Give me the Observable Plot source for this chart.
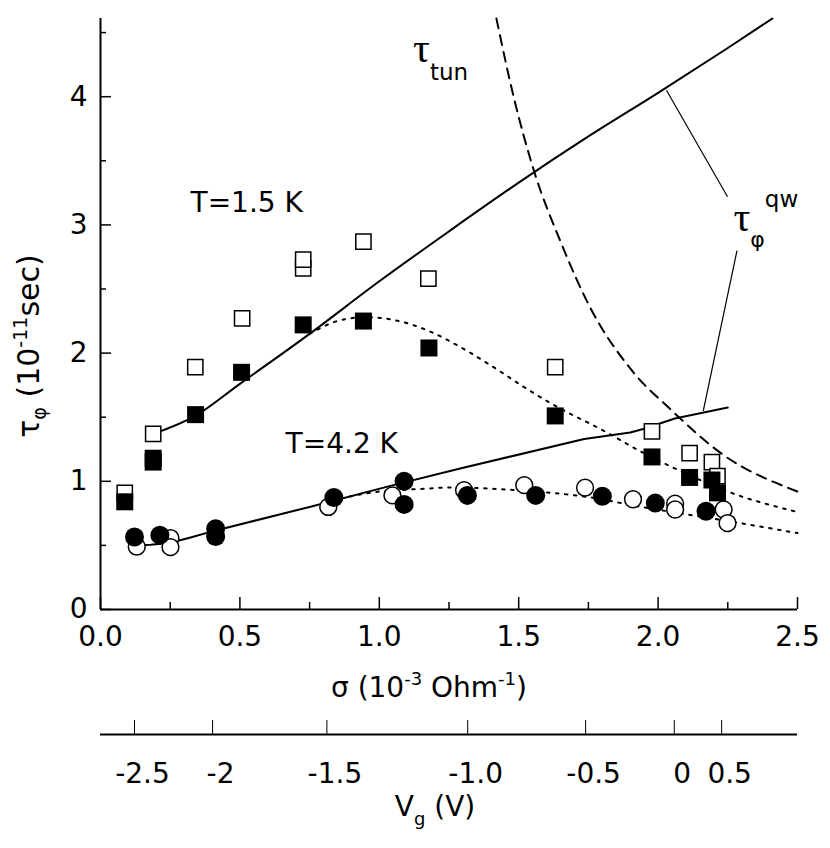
<!DOCTYPE html>
<html><head><meta charset="utf-8">
<script src="https://cdn.jsdelivr.net/npm/d3@7"></script>
<script src="https://cdn.jsdelivr.net/npm/@observablehq/plot@0.6"></script>
<style>
body{margin:0;background:#fff;}
#chart svg{display:block;}
</style></head><body><div id="chart"></div>
<script>
// ---- data (sigma in 10^-3 Ohm^-1, tau in 10^-11 s) ----
const openSquares15 = [[0.087,0.91],[0.189,1.37],[0.34,1.89],[0.508,2.27],[0.727,2.66],[0.727,2.73],[0.943,2.87],[1.176,2.58],[1.631,1.89],[1.978,1.39],[2.113,1.22],[2.193,1.15],[2.213,1.04]];
const filledSquares15 = [[0.087,0.84],[0.189,1.18],[0.189,1.15],[0.341,1.52],[0.506,1.85],[0.727,2.22],[0.943,2.25],[1.178,2.04],[1.631,1.51],[1.978,1.19],[2.113,1.03],[2.193,1.01],[2.213,0.91]];
const openCircles42 = [[0.13,0.49],[0.251,0.557],[0.251,0.487],[0.817,0.80],[1.047,0.89],[1.304,0.93],[1.52,0.97],[1.738,0.95],[1.91,0.86],[2.061,0.826],[2.061,0.78],[2.235,0.78],[2.249,0.674]];
const filledCircles42 = [[0.122,0.565],[0.213,0.58],[0.413,0.63],[0.413,0.57],[0.837,0.873],[1.089,1.00],[1.089,0.82],[1.316,0.89],[1.561,0.89],[1.80,0.883],[1.99,0.83],[2.172,0.766]];
const tauQw15 = [[0.19,1.37],[0.34,1.51],[0.5,1.76],[0.75,2.15],[1.0,2.56],[1.25,2.95],[1.5,3.33],[1.75,3.69],[2.0,4.03],[2.25,4.38],[2.41,4.61]];
const tauFit15 = [[0.75,2.15],[0.85,2.25],[0.95,2.28],[1.08,2.245],[1.18,2.17],[1.32,2.01],[1.41,1.89],[1.53,1.72],[1.63,1.59],[1.8,1.40],[1.94,1.23],[2.1,1.06],[2.25,0.92],[2.5,0.76]];
const tauTun = [[1.42,4.61],[1.484,3.98],[1.555,3.42],[1.65,2.87],[1.76,2.34],[1.9,1.88],[2.05,1.55],[2.225,1.22],[2.5,0.92]];
const tauQw42 = [[0.12,0.50],[0.18,0.505],[0.25,0.52],[0.32,0.56],[0.41,0.615],[0.75,0.80],[1.05,0.97],[1.29,1.10],[1.735,1.33],[1.9,1.38],[1.95,1.41],[2.06,1.49],[2.25,1.575]];
const tauFit42 = [[0.80,0.83],[0.885,0.877],[1.0,0.92],[1.172,0.943],[1.25,0.952],[1.496,0.93],[1.74,0.88],[1.94,0.80],[2.08,0.75],[2.25,0.69],[2.5,0.596]];
const xMajorTicks = [0, 0.5, 1, 1.5, 2, 2.5];
const xMinorTicks = [0.25, 0.75, 1.25, 1.75, 2.25];
const yMajorTicks = [0, 1, 2, 3, 4];
const yMinorTicks = [0.5, 1.5, 2.5, 3.5, 4.5];
const vgLabels = ["-2.5", "-2", "-1.5", "-1.0", "-0.5", "0", "0.5"];
const vgSigma = [0.122, 0.402, 0.812, 1.317, 1.740, 2.058, 2.228];
const tempLabels = ["T=1.5 K", "T=4.2 K"];
const tempSigma = [0.323, 0.664];
const tempTau = [3.17, 1.29];
const leaders = [{x1: 2.03, y1: 4.05, x2: 2.249, y2: 3.22}, {x1: 2.283, y1: 2.80, x2: 2.162, y2: 1.55}];
const tunLabelPos = [1.123, 4.27];
const qwLabelPos = [2.272, 2.945];

const font = "'DejaVu Sans', 'Liberation Sans', Arial, sans-serif";
const serif = "'Liberation Serif', 'Times New Roman', serif";
const fs = 28;

const main = Plot.plot({
  width: 830, height: 710,
  marginLeft: 100, marginRight: 33, marginTop: 18, marginBottom: 101,
  x: {domain: [0, 2.5], axis: null},
  y: {domain: [0, 4.61], axis: null},
  style: {fontFamily: font, fontSize: fs + "px", background: "white", color: "black", overflow: "visible"},
  marks: [
    Plot.line(tauTun, {curve: "monotone-x", stroke: "black", strokeWidth: 2, strokeDasharray: "10,7"}),
    Plot.line(tauFit15, {curve: "monotone-x", stroke: "black", strokeWidth: 2, strokeDasharray: "2.5,6.5"}),
    Plot.line(tauFit42, {curve: "monotone-x", stroke: "black", strokeWidth: 2, strokeDasharray: "2.5,6.5"}),
    Plot.line(tauQw15, {curve: "monotone-x", stroke: "black", strokeWidth: 2}),
    Plot.line(tauQw42, {curve: "linear", stroke: "black", strokeWidth: 2}),
    Plot.link(leaders, {x1: "x1", y1: "y1", x2: "x2", y2: "y2", stroke: "black", strokeWidth: 1.2}),
    Plot.dot(openCircles42, {r: 8.4, fill: "white", stroke: "black", strokeWidth: 1.5}),
    Plot.dot(openSquares15, {symbol: "square", r: 8.6, fill: "white", stroke: "black", strokeWidth: 1.5}),
    Plot.dot(filledCircles42, {r: 9.5, fill: "black"}),
    Plot.dot(filledSquares15, {symbol: "square", r: 9.6, fill: "black"}),
    Plot.ruleX([0], {stroke: "black", strokeWidth: 2}),
    Plot.ruleY([0], {stroke: "black", strokeWidth: 2}),
    Plot.axisY(yMajorTicks, {anchor: "left", tickSize: -11, tickPadding: 24, strokeWidth: 1.5, fontSize: fs, tickFormat: d => String(d), label: null}),
    Plot.axisY(yMinorTicks, {anchor: "left", tickSize: -6, strokeWidth: 1.5, tickFormat: () => "", label: null}),
    Plot.axisX(xMajorTicks, {anchor: "bottom", tickSize: -12, tickPadding: 29, strokeWidth: 1.5, fontSize: fs, tickFormat: d3.format(".1f"), label: null}),
    Plot.axisX(xMinorTicks, {anchor: "bottom", tickSize: -7, strokeWidth: 1.5, tickFormat: () => "", label: null}),
    Plot.text(tempLabels, {x: (d, i) => tempSigma[i], y: (d, i) => tempTau[i], text: d => d, textAnchor: "start", fontSize: fs, fill: "black"})
  ]
});

const sx = main.scale("x"), sy = main.scale("y");
const ms = d3.select(main);
// y label
ms.append("text").attr("transform", "translate(39,346) rotate(-90)").attr("text-anchor", "middle")
  .attr("font-family", font).attr("font-size", 30).attr("fill", "black")
  .call(t => {
    t.append("tspan").text("τ");
    t.append("tspan").attr("font-size", 19).attr("dy", 7).text("φ");
    t.append("tspan").attr("dy", -7).text(" (10");
    t.append("tspan").attr("font-size", 19).attr("dy", -12).text("-11");
    t.append("tspan").attr("dy", 12).text("sec)");
  });
// x label
ms.append("text").attr("x", 429).attr("y", 697).attr("text-anchor", "middle")
  .attr("font-family", font).attr("font-size", fs).attr("fill", "black")
  .call(t => {
    t.append("tspan").text("σ (10");
    t.append("tspan").attr("font-size", 18).attr("dy", -12).text("-3");
    t.append("tspan").attr("dy", 12).text(" Ohm");
    t.append("tspan").attr("font-size", 18).attr("dy", -12).text("-1");
    t.append("tspan").attr("dy", 12).text(")");
  });
// tau_tun
ms.append("text").attr("x", sx.apply(tunLabelPos[0])).attr("y", sy.apply(tunLabelPos[1]))
  .attr("text-anchor", "start").attr("fill", "black")
  .call(t => {
    t.append("tspan").attr("font-family", serif).attr("font-size", 42).text("τ");
    t.append("tspan").attr("font-family", font).attr("font-size", 23).attr("dy", 18).text("tun");
  });
// tau_phi^qw
ms.append("text").attr("x", sx.apply(qwLabelPos[0])).attr("y", sy.apply(qwLabelPos[1]))
  .attr("text-anchor", "start").attr("fill", "black")
  .call(t => {
    t.append("tspan").attr("font-family", serif).attr("font-size", 42).text("τ");
    t.append("tspan").attr("font-family", font).attr("font-size", 22).attr("dy", 16).text("φ");
    t.append("tspan").attr("font-family", font).attr("font-size", 23).attr("dy", -40).text("qw");
  });

const vgData = vgSigma.map((s, i) => ({s, label: vgLabels[i]}));
const vg = Plot.plot({
  width: 830, height: 138,
  marginLeft: 100, marginRight: 33, marginTop: 24, marginBottom: 30,
  x: {domain: [0, 2.5], axis: null},
  y: {domain: [0, 1], axis: null},
  style: {fontFamily: font, fontSize: fs + "px", background: "white", color: "black", overflow: "visible"},
  marks: [
    Plot.ruleY([1], {stroke: "black", strokeWidth: 2}),
    Plot.axisX(vgSigma, {anchor: "top", tickSize: 15, strokeWidth: 1, tickFormat: () => "", label: null}),
    Plot.text(vgData, {x: "s", text: "label", frameAnchor: "top", lineAnchor: "middle", dy: 40, dx: 8, fontSize: fs, fill: "black"})
  ]
});
d3.select(vg).append("text").attr("x", 435).attr("y", 106).attr("text-anchor", "middle")
  .attr("font-family", font).attr("font-size", fs).attr("fill", "black")
  .call(t => {
    t.append("tspan").text("V");
    t.append("tspan").attr("font-size", 18).attr("dy", 9).text("g");
    t.append("tspan").attr("dy", -9).text(" (V)");
  });

document.getElementById("chart").append(main, vg);
</script></body></html>
